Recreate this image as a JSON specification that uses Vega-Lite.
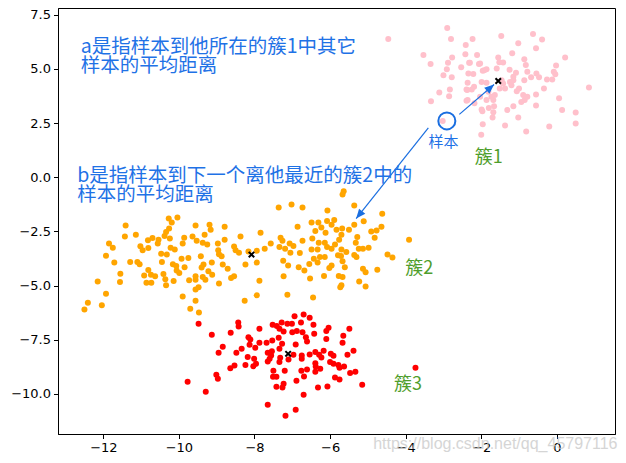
{
  "$schema": "https://vega.github.io/schema/vega-lite/v6.json",
  "autosize": {"type": "none"},
  "width": 557,
  "height": 426,
  "padding": {"left": 58, "top": 8, "right": 11, "bottom": 29},
  "background": "white",
  "view": {"stroke": "black", "strokeWidth": 1},
  "config": {
    "axis": {"labelFont": "DejaVu Sans", "labelFontSize": 13, "labelColor": "black", "tickColor": "black", "domainColor": "black", "tickSize": 4.5, "labelPadding": 3, "grid": false, "title": null}
  },
  "datasets": {
    "pts": [
      {"x":-4.46,"y":6.38,"c":"1"},{"x":-2.90,"y":6.89,"c":"1"},{"x":-2.80,"y":6.38,"c":"1"},{"x":-3.53,"y":5.64,"c":"1"},{"x":-3.34,"y":5.22,"c":"1"},{"x":-2.41,"y":6.10,"c":"1"},{"x":-2.23,"y":6.38,"c":"1"},{"x":-2.42,"y":5.68,"c":"1"},{"x":-2.77,"y":5.53,"c":"1"},{"x":-2.11,"y":5.64,"c":"1"},{"x":-2.88,"y":5.28,"c":"1"},{"x":-2.53,"y":5.07,"c":"1"},{"x":-2.32,"y":5.28,"c":"1"},{"x":-2.06,"y":5.22,"c":"1"},{"x":-1.92,"y":4.94,"c":"1"},{"x":-2.91,"y":4.98,"c":"1"},{"x":-2.34,"y":4.79,"c":"1"},{"x":-3.00,"y":4.71,"c":"1"},{"x":-2.78,"y":4.61,"c":"1"},{"x":-2.36,"y":4.36,"c":"1"},{"x":-2.19,"y":4.17,"c":"1"},{"x":-2.37,"y":4.02,"c":"1"},{"x":-1.99,"y":4.40,"c":"1"},{"x":-2.83,"y":4.05,"c":"1"},{"x":-3.11,"y":3.91,"c":"1"},{"x":-2.85,"y":3.74,"c":"1"},{"x":-2.36,"y":3.56,"c":"1"},{"x":-3.33,"y":3.51,"c":"1"},{"x":-2.18,"y":3.41,"c":"1"},{"x":-2.03,"y":3.71,"c":"1"},{"x":-1.99,"y":3.13,"c":"1"},{"x":-3.02,"y":2.60,"c":"1"},{"x":-1.96,"y":2.44,"c":"1"},
      {"x":-1.47,"y":6.52,"c":"1"},{"x":-0.63,"y":6.61,"c":"1"},{"x":-0.39,"y":6.36,"c":"1"},{"x":-1.02,"y":6.18,"c":"1"},{"x":-0.55,"y":5.95,"c":"1"},{"x":-1.18,"y":5.72,"c":"1"},{"x":0.22,"y":5.53,"c":"1"},{"x":-1.55,"y":5.53,"c":"1"},{"x":-0.86,"y":5.44,"c":"1"},{"x":-1.42,"y":5.30,"c":"1"},{"x":-0.82,"y":5.18,"c":"1"},{"x":-0.02,"y":5.16,"c":"1"},{"x":-1.59,"y":5.02,"c":"1"},{"x":-1.25,"y":4.96,"c":"1"},{"x":-0.78,"y":4.87,"c":"1"},{"x":-0.08,"y":4.87,"c":"1"},{"x":-0.54,"y":4.79,"c":"1"},{"x":-1.08,"y":4.82,"c":"1"},{"x":-0.04,"y":4.75,"c":"1"},{"x":-0.47,"y":4.61,"c":"1"},{"x":-0.68,"y":4.61,"c":"1"},{"x":-0.26,"y":4.51,"c":"1"},{"x":-0.12,"y":4.51,"c":"1"},{"x":-1.15,"y":4.64,"c":"1"},{"x":-0.86,"y":4.47,"c":"1"},{"x":-1.24,"y":4.40,"c":"1"},{"x":-1.42,"y":4.33,"c":"1"},{"x":-1.20,"y":4.25,"c":"1"},{"x":-1.37,"y":4.10,"c":"1"},{"x":-1.00,"y":4.10,"c":"1"},{"x":-0.34,"y":4.10,"c":"1"},{"x":0.85,"y":4.14,"c":"1"},{"x":-1.06,"y":3.97,"c":"1"},{"x":-1.64,"y":3.79,"c":"1"},{"x":-0.89,"y":3.79,"c":"1"},{"x":-0.55,"y":3.82,"c":"1"},{"x":-0.78,"y":3.71,"c":"1"},{"x":-0.85,"y":3.56,"c":"1"},{"x":-0.94,"y":3.47,"c":"1"},{"x":0.06,"y":3.64,"c":"1"},{"x":-1.68,"y":3.56,"c":"1"},{"x":-1.66,"y":3.28,"c":"1"},{"x":-1.15,"y":3.27,"c":"1"},{"x":-0.55,"y":3.31,"c":"1"},{"x":-1.31,"y":3.10,"c":"1"},{"x":0.14,"y":3.10,"c":"1"},{"x":0.50,"y":2.99,"c":"1"},{"x":-1.68,"y":3.00,"c":"1"},{"x":-1.02,"y":2.76,"c":"1"},{"x":-1.70,"y":2.76,"c":"1"},{"x":0.50,"y":2.48,"c":"1"},{"x":-1.37,"y":2.39,"c":"1"},{"x":-0.20,"y":2.34,"c":"1"},{"x":-0.81,"y":2.11,"c":"1"},
      {"x":-2.00,"y":1.96,"c":"1"},{"x":-1.97,"y":3.05,"c":"1"},{"x":-1.80,"y":3.20,"c":"1"},{"x":-2.39,"y":3.53,"c":"1"},{"x":-1.86,"y":4.36,"c":"1"},{"x":-1.81,"y":3.94,"c":"1"},{"x":-1.73,"y":3.71,"c":"1"},{"x":-1.86,"y":3.56,"c":"1"},{"x":-2.25,"y":4.05,"c":"1"},{"x":-2.39,"y":4.05,"c":"1"},{"x":-1.51,"y":4.10,"c":"1"},{"x":-1.46,"y":4.48,"c":"1"},{"x":-1.15,"y":4.48,"c":"1"},{"x":-1.52,"y":5.31,"c":"1"},{"x":-2.03,"y":5.25,"c":"1"},{"x":-2.30,"y":5.28,"c":"1"},{"x":-1.96,"y":4.91,"c":"1"},{"x":-1.86,"y":4.98,"c":"1"},{"x":-2.21,"y":4.76,"c":"1"},
      {"x":-10.27,"y":-1.91,"c":"2"},{"x":-10.04,"y":-1.86,"c":"2"},{"x":-10.19,"y":-2.09,"c":"2"},{"x":-11.41,"y":-2.23,"c":"2"},{"x":-10.26,"y":-2.37,"c":"2"},{"x":-10.34,"y":-2.53,"c":"2"},{"x":-10.38,"y":-2.71,"c":"2"},{"x":-10.24,"y":-2.83,"c":"2"},{"x":-11.43,"y":-2.74,"c":"2"},{"x":-11.14,"y":-2.65,"c":"2"},{"x":-10.70,"y":-2.80,"c":"2"},{"x":-10.82,"y":-2.91,"c":"2"},{"x":-10.54,"y":-2.88,"c":"2"},{"x":-9.86,"y":-2.79,"c":"2"},{"x":-9.64,"y":-2.73,"c":"2"},{"x":-9.90,"y":-3.06,"c":"2"},{"x":-11.85,"y":-3.06,"c":"2"},{"x":-11.75,"y":-3.25,"c":"2"},{"x":-11.02,"y":-3.19,"c":"2"},{"x":-10.81,"y":-3.27,"c":"2"},{"x":-10.56,"y":-3.06,"c":"2"},{"x":-10.96,"y":-3.37,"c":"2"},{"x":-10.22,"y":-3.25,"c":"2"},{"x":-10.11,"y":-3.34,"c":"2"},{"x":-11.93,"y":-3.62,"c":"2"},{"x":-10.47,"y":-3.53,"c":"2"},{"x":-10.32,"y":-3.57,"c":"2"},{"x":-9.93,"y":-3.76,"c":"2"},{"x":-9.75,"y":-3.73,"c":"2"},{"x":-11.29,"y":-3.91,"c":"2"},{"x":-11.10,"y":-3.91,"c":"2"},{"x":-11.71,"y":-3.94,"c":"2"},{"x":-11.04,"y":-4.02,"c":"2"},{"x":-10.45,"y":-3.91,"c":"2"},{"x":-10.16,"y":-4.02,"c":"2"},{"x":-10.07,"y":-4.10,"c":"2"},{"x":-9.85,"y":-4.16,"c":"2"},{"x":-10.81,"y":-4.28,"c":"2"},{"x":-10.06,"y":-4.30,"c":"2"},{"x":-11.55,"y":-4.45,"c":"2"},{"x":-10.92,"y":-4.53,"c":"2"},{"x":-10.74,"y":-4.50,"c":"2"},{"x":-10.63,"y":-4.57,"c":"2"},{"x":-10.41,"y":-4.47,"c":"2"},{"x":-9.99,"y":-4.42,"c":"2"},{"x":-9.73,"y":-4.76,"c":"2"},{"x":-10.36,"y":-4.71,"c":"2"},{"x":-12.15,"y":-4.81,"c":"2"},{"x":-11.56,"y":-4.84,"c":"2"},{"x":-10.86,"y":-4.87,"c":"2"},{"x":-10.73,"y":-4.87,"c":"2"},{"x":-10.14,"y":-4.79,"c":"2"},{"x":-10.34,"y":-4.99,"c":"2"},{"x":-11.93,"y":-5.38,"c":"2"},{"x":-9.90,"y":-5.50,"c":"2"},{"x":-12.41,"y":-5.79,"c":"2"},{"x":-12.04,"y":-5.91,"c":"2"},{"x":-12.50,"y":-6.10,"c":"2"},{"x":-9.70,"y":-6.07,"c":"2"},
      {"x":-7.36,"y":-1.40,"c":"2"},{"x":-7.02,"y":-1.26,"c":"2"},{"x":-6.73,"y":-1.40,"c":"2"},{"x":-9.56,"y":-2.23,"c":"2"},{"x":-9.19,"y":-2.19,"c":"2"},{"x":-9.16,"y":-2.42,"c":"2"},{"x":-8.79,"y":-2.28,"c":"2"},{"x":-9.32,"y":-2.65,"c":"2"},{"x":-6.86,"y":-2.28,"c":"2"},{"x":-7.84,"y":-2.56,"c":"2"},{"x":-8.37,"y":-2.74,"c":"2"},{"x":-7.31,"y":-2.79,"c":"2"},{"x":-7.26,"y":-2.93,"c":"2"},{"x":-8.79,"y":-2.88,"c":"2"},{"x":-9.53,"y":-2.93,"c":"2"},{"x":-9.37,"y":-3.02,"c":"2"},{"x":-9.25,"y":-3.11,"c":"2"},{"x":-8.97,"y":-3.06,"c":"2"},{"x":-7.57,"y":-3.06,"c":"2"},{"x":-7.07,"y":-3.06,"c":"2"},{"x":-6.97,"y":-3.17,"c":"2"},{"x":-6.73,"y":-2.93,"c":"2"},{"x":-8.54,"y":-3.20,"c":"2"},{"x":-7.73,"y":-3.30,"c":"2"},{"x":-7.34,"y":-3.22,"c":"2"},{"x":-7.19,"y":-3.30,"c":"2"},{"x":-8.50,"y":-3.37,"c":"2"},{"x":-8.96,"y":-3.37,"c":"2"},{"x":-8.41,"y":-3.48,"c":"2"},{"x":-8.16,"y":-3.43,"c":"2"},{"x":-7.94,"y":-3.39,"c":"2"},{"x":-7.05,"y":-3.48,"c":"2"},{"x":-6.80,"y":-3.50,"c":"2"},{"x":-8.94,"y":-3.56,"c":"2"},{"x":-8.87,"y":-3.65,"c":"2"},{"x":-9.42,"y":-3.65,"c":"2"},{"x":-7.24,"y":-3.85,"c":"2"},{"x":-8.24,"y":-4.03,"c":"2"},{"x":-7.94,"y":-3.94,"c":"2"},{"x":-9.13,"y":-3.94,"c":"2"},{"x":-9.35,"y":-4.03,"c":"2"},{"x":-8.84,"y":-4.03,"c":"2"},{"x":-7.11,"y":-4.07,"c":"2"},{"x":-6.83,"y":-4.16,"c":"2"},{"x":-8.71,"y":-4.22,"c":"2"},{"x":-9.40,"y":-4.17,"c":"2"},{"x":-9.22,"y":-4.34,"c":"2"},{"x":-9.12,"y":-4.50,"c":"2"},{"x":-6.68,"y":-4.31,"c":"2"},{"x":-9.56,"y":-4.57,"c":"2"},{"x":-9.37,"y":-4.61,"c":"2"},{"x":-8.54,"y":-4.57,"c":"2"},{"x":-8.62,"y":-4.65,"c":"2"},{"x":-7.23,"y":-4.57,"c":"2"},{"x":-9.30,"y":-4.73,"c":"2"},{"x":-9.56,"y":-4.73,"c":"2"},{"x":-7.87,"y":-4.78,"c":"2"},{"x":-8.94,"y":-4.91,"c":"2"},{"x":-9.48,"y":-5.08,"c":"2"},{"x":-9.56,"y":-5.18,"c":"2"},{"x":-7.13,"y":-5.42,"c":"2"},{"x":-7.94,"y":-5.45,"c":"2"},{"x":-9.56,"y":-5.70,"c":"2"},{"x":-8.26,"y":-5.70,"c":"2"},{"x":-9.47,"y":-6.24,"c":"2"},
      {"x":-5.64,"y":-0.65,"c":"2"},{"x":-5.67,"y":-0.80,"c":"2"},{"x":-6.07,"y":-1.54,"c":"2"},{"x":-5.36,"y":-1.31,"c":"2"},{"x":-4.62,"y":-1.68,"c":"2"},{"x":-5.11,"y":-2.03,"c":"2"},{"x":-6.49,"y":-2.09,"c":"2"},{"x":-6.31,"y":-2.09,"c":"2"},{"x":-6.08,"y":-2.02,"c":"2"},{"x":-5.89,"y":-1.97,"c":"2"},{"x":-5.96,"y":-2.19,"c":"2"},{"x":-5.68,"y":-2.37,"c":"2"},{"x":-5.50,"y":-2.42,"c":"2"},{"x":-5.36,"y":-2.19,"c":"2"},{"x":-4.91,"y":-2.51,"c":"2"},{"x":-4.77,"y":-2.46,"c":"2"},{"x":-4.64,"y":-2.28,"c":"2"},{"x":-6.23,"y":-2.32,"c":"2"},{"x":-6.39,"y":-2.48,"c":"2"},{"x":-6.12,"y":-2.56,"c":"2"},{"x":-5.83,"y":-2.42,"c":"2"},{"x":-5.70,"y":-2.65,"c":"2"},{"x":-5.28,"y":-2.76,"c":"2"},{"x":-4.82,"y":-2.79,"c":"2"},{"x":-6.47,"y":-2.83,"c":"2"},{"x":-6.14,"y":-3.02,"c":"2"},{"x":-6.30,"y":-3.02,"c":"2"},{"x":-5.76,"y":-2.88,"c":"2"},{"x":-5.87,"y":-3.11,"c":"2"},{"x":-5.32,"y":-3.02,"c":"2"},{"x":-3.91,"y":-2.88,"c":"2"},{"x":-6.08,"y":-3.22,"c":"2"},{"x":-5.96,"y":-3.30,"c":"2"},{"x":-6.49,"y":-3.34,"c":"2"},{"x":-6.33,"y":-3.34,"c":"2"},{"x":-5.70,"y":-3.34,"c":"2"},{"x":-5.57,"y":-3.45,"c":"2"},{"x":-5.24,"y":-3.30,"c":"2"},{"x":-5.13,"y":-3.30,"c":"2"},{"x":-4.98,"y":-3.25,"c":"2"},{"x":-5.79,"y":-3.60,"c":"2"},{"x":-5.71,"y":-3.64,"c":"2"},{"x":-5.36,"y":-3.59,"c":"2"},{"x":-5.30,"y":-3.68,"c":"2"},{"x":-4.48,"y":-3.57,"c":"2"},{"x":-4.35,"y":-3.71,"c":"2"},{"x":-6.43,"y":-3.76,"c":"2"},{"x":-6.27,"y":-3.68,"c":"2"},{"x":-6.14,"y":-3.68,"c":"2"},{"x":-5.67,"y":-3.88,"c":"2"},{"x":-6.33,"y":-3.94,"c":"2"},{"x":-6.55,"y":-4.01,"c":"2"},{"x":-5.96,"y":-4.07,"c":"2"},{"x":-6.02,"y":-4.19,"c":"2"},{"x":-5.61,"y":-4.15,"c":"2"},{"x":-5.13,"y":-4.22,"c":"2"},{"x":-4.75,"y":-4.27,"c":"2"},{"x":-5.06,"y":-4.38,"c":"2"},{"x":-6.16,"y":-4.56,"c":"2"},{"x":-5.77,"y":-4.56,"c":"2"},{"x":-5.67,"y":-4.61,"c":"2"},{"x":-6.53,"y":-4.67,"c":"2"},{"x":-5.23,"y":-4.81,"c":"2"},{"x":-5.70,"y":-4.99,"c":"2"},{"x":-5.06,"y":-5.04,"c":"2"},{"x":-5.73,"y":-5.08,"c":"2"},{"x":-6.45,"y":-5.55,"c":"2"},
      {"x":-9.48,"y":-6.76,"c":"3"},{"x":-8.43,"y":-6.71,"c":"3"},{"x":-8.42,"y":-6.89,"c":"3"},{"x":-9.13,"y":-7.27,"c":"3"},{"x":-8.63,"y":-7.18,"c":"3"},{"x":-7.87,"y":-6.99,"c":"3"},{"x":-7.52,"y":-6.81,"c":"3"},{"x":-7.28,"y":-6.71,"c":"3"},{"x":-7.13,"y":-6.76,"c":"3"},{"x":-7.01,"y":-6.76,"c":"3"},{"x":-6.77,"y":-6.71,"c":"3"},{"x":-6.94,"y":-6.42,"c":"3"},{"x":-6.70,"y":-6.34,"c":"3"},{"x":-7.41,"y":-6.87,"c":"3"},{"x":-7.34,"y":-6.99,"c":"3"},{"x":-7.23,"y":-7.12,"c":"3"},{"x":-7.00,"y":-7.15,"c":"3"},{"x":-6.88,"y":-7.10,"c":"3"},{"x":-8.16,"y":-7.38,"c":"3"},{"x":-8.11,"y":-7.49,"c":"3"},{"x":-7.53,"y":-7.53,"c":"3"},{"x":-7.36,"y":-7.41,"c":"3"},{"x":-8.84,"y":-7.82,"c":"3"},{"x":-8.34,"y":-7.92,"c":"3"},{"x":-8.13,"y":-7.73,"c":"3"},{"x":-7.98,"y":-7.87,"c":"3"},{"x":-7.87,"y":-7.64,"c":"3"},{"x":-7.68,"y":-7.64,"c":"3"},{"x":-7.27,"y":-7.69,"c":"3"},{"x":-6.91,"y":-7.72,"c":"3"},{"x":-8.95,"y":-8.10,"c":"3"},{"x":-8.48,"y":-8.10,"c":"3"},{"x":-7.65,"y":-8.10,"c":"3"},{"x":-7.54,"y":-8.03,"c":"3"},{"x":-7.34,"y":-7.92,"c":"3"},{"x":-7.56,"y":-8.23,"c":"3"},{"x":-6.97,"y":-8.19,"c":"3"},{"x":-6.75,"y":-8.23,"c":"3"},{"x":-8.18,"y":-8.30,"c":"3"},{"x":-8.01,"y":-8.38,"c":"3"},{"x":-7.60,"y":-8.38,"c":"3"},{"x":-7.32,"y":-8.33,"c":"3"},{"x":-7.10,"y":-8.41,"c":"3"},{"x":-7.65,"y":-8.50,"c":"3"},{"x":-7.34,"y":-8.53,"c":"3"},{"x":-6.75,"y":-8.38,"c":"3"},{"x":-7.96,"y":-8.61,"c":"3"},{"x":-8.24,"y":-8.66,"c":"3"},{"x":-8.53,"y":-8.69,"c":"3"},{"x":-8.03,"y":-8.72,"c":"3"},{"x":-8.64,"y":-8.81,"c":"3"},{"x":-7.50,"y":-8.93,"c":"3"},{"x":-7.20,"y":-8.93,"c":"3"},{"x":-6.76,"y":-8.93,"c":"3"},{"x":-9.01,"y":-9.12,"c":"3"},{"x":-8.97,"y":-9.30,"c":"3"},{"x":-7.51,"y":-9.21,"c":"3"},{"x":-7.42,"y":-9.21,"c":"3"},{"x":-6.69,"y":-9.20,"c":"3"},{"x":-6.89,"y":-9.39,"c":"3"},{"x":-7.23,"y":-9.53,"c":"3"},{"x":-7.26,"y":-9.70,"c":"3"},{"x":-7.42,"y":-9.67,"c":"3"},{"x":-9.77,"y":-9.44,"c":"3"},{"x":-9.29,"y":-9.90,"c":"3"},{"x":-6.70,"y":-10.04,"c":"3"},{"x":-7.65,"y":-10.50,"c":"3"},{"x":-6.91,"y":-10.73,"c":"3"},{"x":-7.18,"y":-11.01,"c":"3"},
      {"x":-6.54,"y":-6.48,"c":"3"},{"x":-6.44,"y":-6.81,"c":"3"},{"x":-6.04,"y":-6.95,"c":"3"},{"x":-6.10,"y":-7.10,"c":"3"},{"x":-5.49,"y":-6.99,"c":"3"},{"x":-6.73,"y":-7.15,"c":"3"},{"x":-6.42,"y":-7.22,"c":"3"},{"x":-6.64,"y":-7.38,"c":"3"},{"x":-5.65,"y":-7.32,"c":"3"},{"x":-6.61,"y":-7.58,"c":"3"},{"x":-6.10,"y":-7.46,"c":"3"},{"x":-5.67,"y":-7.64,"c":"3"},{"x":-5.38,"y":-8.01,"c":"3"},{"x":-6.17,"y":-8.01,"c":"3"},{"x":-6.39,"y":-8.07,"c":"3"},{"x":-6.54,"y":-8.18,"c":"3"},{"x":-5.98,"y":-8.15,"c":"3"},{"x":-6.29,"y":-8.19,"c":"3"},{"x":-5.91,"y":-8.24,"c":"3"},{"x":-5.54,"y":-8.19,"c":"3"},{"x":-6.23,"y":-8.32,"c":"3"},{"x":-6.00,"y":-8.53,"c":"3"},{"x":-5.91,"y":-8.61,"c":"3"},{"x":-6.39,"y":-8.58,"c":"3"},{"x":-6.38,"y":-8.73,"c":"3"},{"x":-5.78,"y":-8.66,"c":"3"},{"x":-5.63,"y":-8.73,"c":"3"},{"x":-5.75,"y":-8.79,"c":"3"},{"x":-6.26,"y":-8.84,"c":"3"},{"x":-6.61,"y":-8.87,"c":"3"},{"x":-6.39,"y":-8.98,"c":"3"},{"x":-5.47,"y":-9.03,"c":"3"},{"x":-5.33,"y":-8.98,"c":"3"},{"x":-3.74,"y":-8.79,"c":"3"},{"x":-5.87,"y":-9.24,"c":"3"},{"x":-5.75,"y":-9.33,"c":"3"},{"x":-5.15,"y":-9.58,"c":"3"},{"x":-6.32,"y":-9.70,"c":"3"},{"x":-6.07,"y":-9.66,"c":"3"}
    ],
    "centers": [
      {"x":-1.55,"y":4.44},{"x":-8.08,"y":-3.57},{"x":-7.11,"y":-8.15}
    ],
    "arrows": [
      {"a":"1","x":-2.58,"y":2.90,"x2":-1.66,"y2":4.28},
      {"a":"2","x":-3.40,"y":2.28,"x2":-5.31,"y2":-1.91}
    ]
  },
  "encoding": {
    "x": {"field": "x", "type": "quantitative", "scale": {"domain": [-13.2, 1.54], "nice": false, "zero": false}, "axis": {"values": [-12, -10, -8, -6, -4, -2, 0], "format": "d"}},
    "y": {"field": "y", "type": "quantitative", "scale": {"domain": [-11.85, 7.81], "nice": false, "zero": false}, "axis": {"values": [-10, -7.5, -5, -2.5, 0, 2.5, 5, 7.5], "format": ".1f"}}
  },
  "layer": [
    {
      "data": {"name": "pts"},
      "mark": {"type": "circle", "size": 36, "opacity": 1},
      "encoding": {
        "color": {"field": "c", "type": "nominal", "scale": {"domain": ["1", "2", "3"], "range": ["#ffc0cb", "#ffa500", "#ff0000"]}, "legend": null}
      }
    },
    {
      "data": {"name": "centers"},
      "mark": {"type": "point", "shape": "M-1,-1L1,1M1,-1L-1,1", "size": 30, "filled": false, "stroke": "black", "strokeWidth": 2, "opacity": 1}
    },
    {
      "data": {"values": [{"x": -2.91, "y": 2.60}]},
      "mark": {"type": "point", "shape": "circle", "size": 290, "filled": false, "stroke": "#1a6ee0", "strokeWidth": 2, "opacity": 1}
    },
    {
      "data": {"name": "arrows"},
      "mark": {"type": "rule", "color": "#1a6ee0", "strokeWidth": 1.2},
      "encoding": {"x2": {"field": "x2"}, "y2": {"field": "y2"}}
    },
    {
      "data": {"name": "arrows"},
      "transform": [{"filter": "datum.a == '1'"}],
      "mark": {"type": "point", "shape": "M0,0L-1,2.4L1,2.4Z", "size": 64, "filled": true, "color": "#1a6ee0", "opacity": 1, "angle": 49},
      "encoding": {"x": {"field": "x2", "type": "quantitative"}, "y": {"field": "y2", "type": "quantitative"}}
    },
    {
      "data": {"name": "arrows"},
      "transform": [{"filter": "datum.a == '2'"}],
      "mark": {"type": "point", "shape": "M0,0L-1,2.4L1,2.4Z", "size": 64, "filled": true, "color": "#1a6ee0", "opacity": 1, "angle": 219},
      "encoding": {"x": {"field": "x2", "type": "quantitative"}, "y": {"field": "y2", "type": "quantitative"}}
    },
    {
      "data": {"values": [
        {"x": -12.60, "y": 6.02, "t": "a是指样本到他所在的簇1中其它\n样本的平均距离"},
        {"x": -12.69, "y": 0.07, "t": "b是指样本到下一个离他最近的簇2中的\n样本的平均距离"}
      ]},
      "mark": {"type": "text", "align": "left", "baseline": "middle", "font": "Noto Sans CJK SC", "fontSize": 19.5, "lineHeight": 19.5, "lineBreak": "\n", "color": "#1f72e6"},
      "encoding": {"text": {"field": "t"}}
    },
    {
      "data": {"values": [{"x": -3.00, "y": 1.63, "t": "样本"}]},
      "mark": {"type": "text", "align": "center", "baseline": "middle", "font": "Noto Sans CJK SC", "fontSize": 15, "color": "#1f72e6"},
      "encoding": {"text": {"field": "t"}}
    },
    {
      "data": {"values": [
        {"x": -1.80, "y": 0.89, "t": "簇1"},
        {"x": -3.64, "y": -4.25, "t": "簇2"},
        {"x": -3.94, "y": -9.59, "t": "簇3"}
      ]},
      "mark": {"type": "text", "align": "center", "baseline": "middle", "font": "Noto Sans CJK SC", "fontSize": 18, "color": "#4f9e2c"},
      "encoding": {"text": {"field": "t"}}
    },
    {
      "data": {"values": [{"x": -4.86, "y": -12.29, "t": "https://blog.csdn.net/qq_45797116"}]},
      "mark": {"type": "text", "align": "left", "baseline": "middle", "font": "Liberation Sans", "fontSize": 16, "color": "#c8c8c8", "opacity": 0.75, "clip": false},
      "encoding": {"text": {"field": "t"}}
    }
  ]
}
